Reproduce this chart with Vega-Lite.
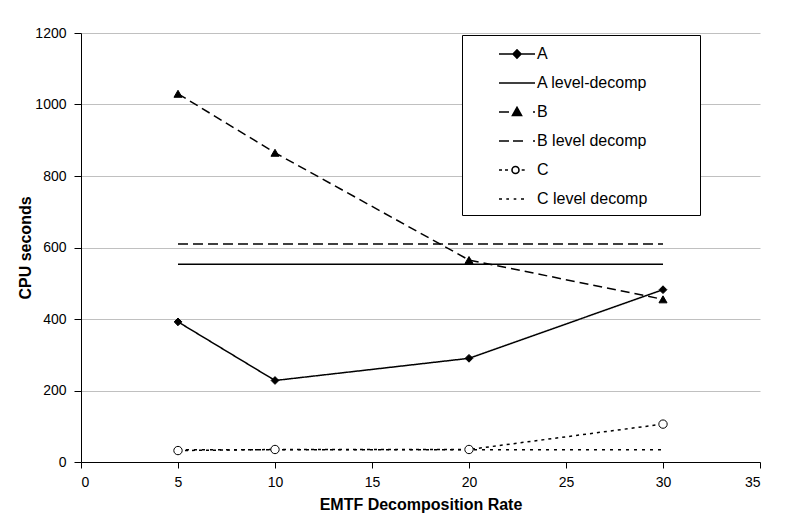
{
  "$schema": "https://vega.github.io/schema/vega-lite/v6.json",
  "width": 679,
  "height": 429,
  "autosize": {"type": "none"},
  "padding": {"left": 81, "top": 33, "right": 25, "bottom": 54},
  "background": "white",
  "data": {
    "values": [
      {"series": "A", "rate": 5, "cpu": 392},
      {"series": "A", "rate": 10, "cpu": 228},
      {"series": "A", "rate": 20, "cpu": 290},
      {"series": "A", "rate": 30, "cpu": 482},
      {"series": "A level-decomp", "rate": 5, "cpu": 553},
      {"series": "A level-decomp", "rate": 10, "cpu": 553},
      {"series": "A level-decomp", "rate": 20, "cpu": 553},
      {"series": "A level-decomp", "rate": 30, "cpu": 553},
      {"series": "B", "rate": 5, "cpu": 1030},
      {"series": "B", "rate": 10, "cpu": 865},
      {"series": "B", "rate": 20, "cpu": 565},
      {"series": "B", "rate": 30, "cpu": 455},
      {"series": "B level decomp", "rate": 5, "cpu": 610},
      {"series": "B level decomp", "rate": 10, "cpu": 610},
      {"series": "B level decomp", "rate": 20, "cpu": 610},
      {"series": "B level decomp", "rate": 30, "cpu": 610},
      {"series": "C", "rate": 5, "cpu": 32},
      {"series": "C", "rate": 10, "cpu": 35},
      {"series": "C", "rate": 20, "cpu": 35},
      {"series": "C", "rate": 30, "cpu": 106},
      {"series": "C level decomp", "rate": 5, "cpu": 34},
      {"series": "C level decomp", "rate": 10, "cpu": 34},
      {"series": "C level decomp", "rate": 20, "cpu": 34},
      {"series": "C level decomp", "rate": 30, "cpu": 34}
    ]
  },
  "encoding": {
    "x": {
      "field": "rate", "type": "quantitative",
      "scale": {"domain": [0, 35], "nice": false, "zero": false},
      "axis": {"values": [0, 5, 10, 15, 20, 25, 30, 35], "title": "EMTF Decomposition Rate", "grid": false}
    },
    "y": {
      "field": "cpu", "type": "quantitative",
      "scale": {"domain": [0, 1200], "nice": false},
      "axis": {"values": [0, 200, 400, 600, 800, 1000, 1200], "format": "d", "title": "CPU seconds", "grid": true}
    }
  },
  "layer": [
    {
      "mark": {"type": "line", "color": "black", "strokeCap": "butt"},
      "encoding": {
        "detail": {"field": "series"},
        "strokeWidth": {
          "field": "series", "type": "nominal", "legend": null,
          "scale": {
            "domain": ["A", "A level-decomp", "B", "B level decomp", "C", "C level decomp"],
            "range": [1.5, 1.5, 2, 2.5, 2, 1.6]
          }
        },
        "strokeDash": {
          "field": "series", "type": "nominal", "legend": null,
          "scale": {
            "domain": ["A", "A level-decomp", "B", "B level decomp", "C", "C level decomp"],
            "range": [[1, 0], [1, 0], [9, 5], [10, 5], [3, 4], [3, 5]]
          }
        }
      }
    },
    {
      "transform": [{"filter": "datum.series === 'A' || datum.series === 'B' || datum.series === 'C'"}],
      "mark": {"type": "point", "filled": true, "stroke": "black", "strokeWidth": 1, "opacity": 1},
      "encoding": {
        "shape": {
          "field": "series", "type": "nominal", "legend": null,
          "scale": {"domain": ["A", "B", "C"], "range": ["diamond", "triangle-up", "circle"]}
        },
        "fill": {
          "field": "series", "type": "nominal", "legend": null,
          "scale": {"domain": ["A", "B", "C"], "range": ["black", "black", "white"]}
        },
        "size": {
          "field": "series", "type": "nominal", "legend": null,
          "scale": {"domain": ["A", "B", "C"], "range": [60, 70, 50]}
        }
      }
    },
    {
      "transform": [{"filter": "false"}],
      "mark": {"type": "point", "filled": true, "stroke": "black", "strokeWidth": 1.6, "size": 400, "opacity": 1},
      "encoding": {
        "shape": {
          "field": "series", "type": "nominal",
          "scale": {
            "domain": ["A", "A level-decomp", "B", "B level decomp", "C", "C level decomp"],
            "range": [
              "M-1.8,0L1.8,0M-0.4,0L0,-0.4L0.4,0L0,0.4Z",
              "M-1.8,0L1.8,0",
              "M-1.8,0L-0.8,0M-0.45,0.35L0.45,0.35L0,-0.45ZM1.6,0L1.8,0",
              "M-1.8,0L-0.8,0M-0.4,0L0.6,0M1.6,0L1.8,0",
              "M-1.8,0L-1.5,0M-1.2,0L-0.9,0M0.2,0A0.35,0.35,0,1,1,-0.5,0A0.35,0.35,0,1,1,0.2,0ZM0.47,0L0.77,0",
              "M-1.8,0L-1.5,0M-1.07,0L-0.8,0M-0.33,0L-0.07,0M0.4,0L0.7,0"
            ]
          },
          "legend": {
            "title": null,
            "orient": "none",
            "legendX": 381,
            "legendY": 2,
            "padding": 8,
            "strokeColor": "black",
            "fillColor": "white",
            "symbolSize": 400,
            "symbolOffset": 36,
            "labelOffset": 9,
            "rowPadding": 10,
            "symbolStrokeColor": "black",
            "symbolStrokeWidth": 1.6,
            "symbolOpacity": 1,
            "labelFont": "Liberation Sans",
            "labelFontSize": 16,
            "labelColor": "black",
            "labelLimit": 400,
            "labelExpr": "datum.label + '\u00a0\u00a0\u00a0\u00a0\u00a0\u00a0\u00a0\u00a0\u00a0\u00a0\u200b'",
            "encode": {
              "symbols": {
                "update": {
                  "stroke": {"value": "black"},
                  "strokeWidth": {"value": 1.6},
                  "opacity": {"value": 1}
                }
              }
            }
          }
        },
        "fill": {
          "field": "series", "type": "nominal",
          "scale": {
            "domain": ["A", "A level-decomp", "B", "B level decomp", "C", "C level decomp"],
            "range": ["black", "black", "black", "black", "white", "black"]
          },
          "legend": {
            "title": null,
            "orient": "none",
            "legendX": 381,
            "legendY": 2,
            "padding": 8,
            "strokeColor": "black",
            "fillColor": "white",
            "symbolSize": 400,
            "symbolOffset": 36,
            "labelOffset": 9,
            "rowPadding": 10,
            "symbolStrokeColor": "black",
            "symbolStrokeWidth": 1.6,
            "symbolOpacity": 1,
            "labelFont": "Liberation Sans",
            "labelFontSize": 16,
            "labelColor": "black",
            "labelLimit": 400,
            "labelExpr": "datum.label + '\u00a0\u00a0\u00a0\u00a0\u00a0\u00a0\u00a0\u00a0\u00a0\u00a0\u200b'",
            "encode": {
              "symbols": {
                "update": {
                  "stroke": {"value": "black"},
                  "strokeWidth": {"value": 1.6},
                  "opacity": {"value": 1}
                }
              }
            }
          }
        }
      }
    }
  ],
  "resolve": {"scale": {"shape": "independent", "fill": "independent"}},
  "config": {
    "view": {"stroke": null},
    "axis": {
      "domainColor": "black",
      "tickColor": "black",
      "labelFont": "Liberation Sans",
      "labelFontSize": 14,
      "labelColor": "black",
      "titleFont": "Liberation Sans",
      "titleFontSize": 16,
      "titleFontWeight": "bold",
      "titleColor": "black",
      "gridColor": "#c0c0c0",
      "gridWidth": 1
    },
    "axisX": {"tickSize": 6, "labelPadding": 7, "titlePadding": 7},
    "axisY": {"tickSize": 7, "labelPadding": 8, "titlePadding": 1}
  }
}
